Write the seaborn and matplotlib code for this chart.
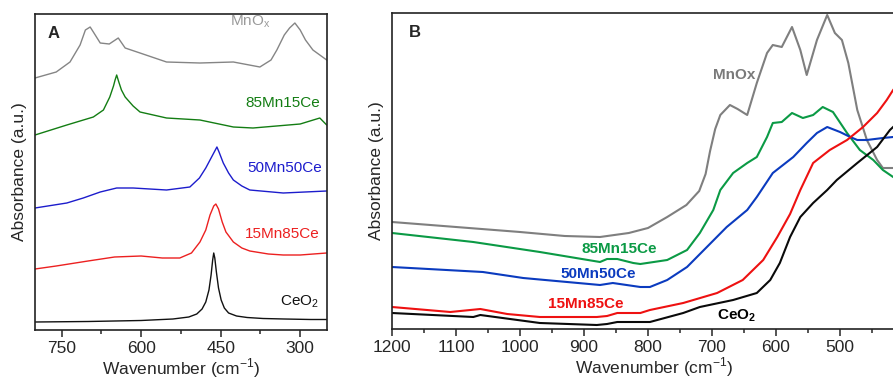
import matplotlib
matplotlib.use("Agg")
import matplotlib.pyplot as plt
import seaborn as sns
from matplotlib.ticker import MultipleLocator, FixedLocator

sns.set_style("ticks")
plt.rcParams['font.family'] = ['Liberation Sans', 'DejaVu Sans']
plt.rcParams['mathtext.fontset'] = 'custom'
plt.rcParams['mathtext.rm'] = 'Liberation Sans'
plt.rcParams['mathtext.bf'] = 'Liberation Sans:bold'

# ---- Panel A: Raman spectra (stacked, arbitrary units) ----
a_ceo2_x = [800, 700, 600, 540, 510, 495, 485, 478, 472, 468, 465, 463, 461, 458, 454, 449, 443, 435, 420, 400, 370, 330, 280, 250]
a_ceo2_y = [8, 8.5, 9.5, 11, 13, 16, 21, 28, 40, 55, 70, 77, 72, 58, 42, 30, 22, 17, 14, 12.5, 11.5, 11, 10.5, 10.5]

a_15_x = [800, 760, 700, 650, 600, 560, 527, 505, 489, 478, 470, 463, 459, 454, 447, 440, 426, 410, 395, 360, 332, 300, 250]
a_15_y = [61, 64, 69, 73, 74, 72, 72, 77, 88, 100, 115, 124, 126, 121, 108, 98, 88, 82, 79, 76, 75, 75, 77]

a_50_x = [800, 740, 709, 677, 646, 615, 552, 508, 490, 478, 467, 460, 457, 453, 445, 435, 426, 410, 395, 332, 250]
a_50_y = [122, 127, 132, 138, 142, 142, 140, 143, 152, 162, 173, 180, 183, 178, 167, 157, 150, 144, 140, 137, 139]

a_85_x = [800, 740, 690, 671, 659, 652, 649, 646, 642, 637, 630, 615, 602, 552, 489, 426, 389, 300, 263, 250]
a_85_y = [195, 205, 213, 220, 233, 244, 250, 255, 248, 240, 233, 224, 218, 212, 210, 203, 202, 206, 212, 205]

a_mnox_x = [800, 760, 734, 715, 705, 696, 690, 677, 660, 643, 630, 602, 552, 489, 426, 376, 355, 344, 330, 320, 310, 300, 290, 276, 250]
a_mnox_y = [252, 258, 268, 285, 300, 303, 298, 287, 286, 292, 282, 277, 268, 267, 268, 263, 270, 280, 295, 302, 307, 300, 290, 280, 270]

# ---- Panel B: absorbance ----
b_mnox_x = [1200, 1100, 1000, 930, 875, 830, 800, 770, 740, 720, 710, 703, 695, 687, 672, 660, 645, 630, 614, 605, 591, 575, 562, 552, 536, 520, 508, 497, 487, 473, 458, 442, 433, 417, 400]
b_mnox_y = [107, 102, 97, 93, 92, 96, 101, 112, 124, 138, 155, 178, 200, 214, 224, 220, 214, 246, 276, 284, 282, 302, 279, 254, 289, 314, 296, 289, 266, 219, 189, 169, 161, 161, 161]

b_85_x = [1200, 1073, 969, 875, 864, 848, 823, 812, 770, 739, 719, 698, 687, 667, 645, 630, 614, 605, 591, 575, 558, 542, 527, 511, 489, 469, 448, 433, 417, 400]
b_85_y = [96, 87, 77, 67, 70, 70, 66, 65, 69, 79, 96, 119, 139, 156, 166, 172, 192, 206, 207, 216, 211, 214, 222, 217, 196, 179, 169, 159, 152, 146]

b_50_x = [1200, 1058, 995, 875, 855, 812, 797, 770, 739, 708, 677, 645, 630, 605, 573, 552, 536, 520, 500, 484, 473, 458, 433, 417, 400]
b_50_y = [62, 57, 51, 44, 46, 42, 42, 49, 62, 82, 102, 119, 132, 156, 172, 186, 196, 202, 197, 192, 189, 189, 191, 192, 192]

b_15_x = [1200, 1109, 1062, 1020, 969, 880, 864, 848, 812, 797, 745, 692, 652, 620, 598, 578, 562, 542, 516, 489, 464, 442, 427, 417, 400]
b_15_y = [22, 17, 20, 15, 12, 12, 13, 16, 16, 19, 26, 36, 49, 69, 92, 115, 139, 166, 179, 189, 202, 216, 229, 239, 252]

b_ceo2_x = [1200, 1073, 1062, 969, 880, 864, 848, 797, 745, 719, 667, 630, 609, 594, 578, 562, 542, 520, 505, 473, 442, 422, 417, 400]
b_ceo2_y = [16, 12, 14, 6, 4, 5, 7, 7, 16, 22, 29, 36, 49, 66, 92, 112, 126, 139, 149, 166, 182, 199, 202, 212]

fig = plt.figure(figsize=(8.93, 3.85), dpi=100)
axA = fig.add_axes([35 / 893, 55 / 385, 291.7 / 893, 316 / 385])
axB = fig.add_axes([392 / 893, 56 / 385, 524.8 / 893, 316 / 385])

colA = {'gray': '#858585', 'green': '#137d13', 'blue': '#1c1ccc', 'red': '#ec2020', 'black': '#111111'}
colB = {'gray': '#7f7f7f', 'green': '#0b9a45', 'blue': '#0b3bbf', 'red': '#ee1111', 'black': '#0a0a0a'}

for x, y, c in [(a_ceo2_x, a_ceo2_y, 'black'), (a_15_x, a_15_y, 'red'), (a_50_x, a_50_y, 'blue'),
                (a_85_x, a_85_y, 'green'), (a_mnox_x, a_mnox_y, 'gray')]:
    sns.lineplot(x=x, y=y, color=colA[c], lw=1.0, ax=axA)

for x, y, c in [(b_mnox_x, b_mnox_y, 'gray'), (b_85_x, b_85_y, 'green'), (b_50_x, b_50_y, 'blue'),
                (b_15_x, b_15_y, 'red'), (b_ceo2_x, b_ceo2_y, 'black')]:
    sns.lineplot(x=x, y=y, color=colB[c], lw=1.5, ax=axB)

axA.set_xlim(800, 250)
axA.set_ylim(0, 316)
axB.set_xlim(1200, 380)
axB.set_ylim(0, 316)

axA.xaxis.set_major_locator(MultipleLocator(150))
axA.xaxis.set_minor_locator(MultipleLocator(75))
# the 400 label sits past the right edge of the cropped panel
axB.xaxis.set_major_locator(FixedLocator([1200, 1100, 1000, 900, 800, 700, 600, 500]))
axB.xaxis.set_minor_locator(MultipleLocator(50))

for ax in (axA, axB):
    ax.set_yticks([])
    ax.tick_params(axis='x', which='major', length=5, width=1.1, labelsize=12.5, pad=3, direction='out')
    ax.tick_params(axis='x', which='minor', length=3, width=1.1, direction='out')
    ax.set_xlabel('Wavenumber (cm$^{-1}$)', fontsize=12.5, labelpad=0)
    ax.set_ylabel('Absorbance (a.u.)', fontsize=12.5, labelpad=6)
    for s in ax.spines.values():
        s.set_linewidth(1.2)
        s.set_color('#222222')

# panel A labels
axA.text(0.062, 0.937, 'A', transform=axA.transAxes, fontsize=12, fontweight='bold', ha='center', va='center')
axA.text(395, 308, 'MnO$_\\mathrm{x}$', color='#9a9a9a', fontsize=11, ha='center', va='center')
axA.text(332, 227, '85Mn15Ce', color=colA['green'], fontsize=11, ha='center', va='center')
axA.text(330, 162, '50Mn50Ce', color=colA['blue'], fontsize=11, ha='center', va='center')
axA.text(334, 96, '15Mn85Ce', color=colA['red'], fontsize=11, ha='center', va='center')
axA.text(302, 28, 'CeO$_\\mathrm{2}$', color='#111111', fontsize=11, ha='center', va='center')

# panel B labels
axB.text(0.044, 0.937, 'B', transform=axB.transAxes, fontsize=12, fontweight='bold', ha='center', va='center')
axB.text(666, 254, 'MnOx', color='#7a7a7a', fontsize=11, fontweight='bold', ha='center', va='center')
axB.text(845, 80, '85Mn15Ce', color=colB['green'], fontsize=11, fontweight='bold', ha='center', va='center')
axB.text(878, 55, '50Mn50Ce', color=colB['blue'], fontsize=11, fontweight='bold', ha='center', va='center')
axB.text(897, 25, '15Mn85Ce', color=colB['red'], fontsize=11, fontweight='bold', ha='center', va='center')
axB.text(661, 13, 'CeO$_\\mathbf{2}$', color='black', fontsize=11, fontweight='bold', ha='center', va='center')

fig.savefig('out.png', dpi=100)
